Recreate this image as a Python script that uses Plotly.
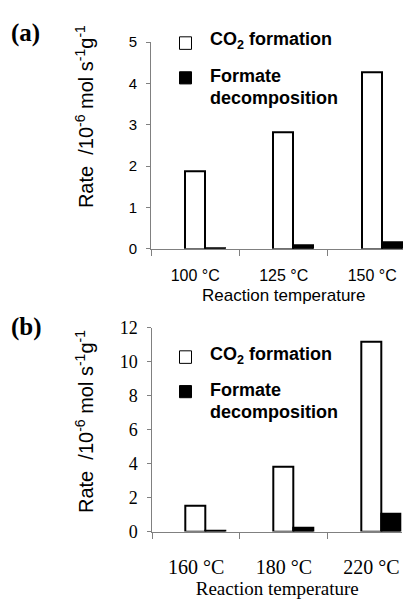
import plotly.graph_objects as go

# ---- data ----
temps_a = ["100 °C", "125 °C", "150 °C"]
co2_a = [1.87, 2.83, 4.28]
formate_a = [0.02, 0.09, 0.16]

temps_b = ["160 °C", "180 °C", "220 °C"]
co2_b = [1.50, 3.82, 11.15]
formate_b = [0.08, 0.22, 1.05]

yticks_a = [0, 1, 2, 3, 4, 5]
yticks_b = [0, 2, 4, 6, 8, 10, 12]

W, H = 406, 599
SANS = "Liberation Sans, Arial, sans-serif"
SERIF = "Liberation Serif, Times New Roman, serif"
GRAY = "#808080"


def px(x):
    return x / W


def py(y):
    return 1 - y / H


pos = list(range(3))
fig = go.Figure()

bar_w = 0.226
for xa, ya, co2, form in [("x", "y", co2_a, formate_a), ("x2", "y2", co2_b, formate_b)]:
    fig.add_trace(go.Bar(x=pos, y=co2, xaxis=xa, yaxis=ya, offset=-0.12, width=bar_w,
                         marker=dict(color="white", line=dict(color="black", width=2)),
                         name="CO2 formation", showlegend=False))
    fig.add_trace(go.Bar(x=pos, y=form, xaxis=xa, yaxis=ya, offset=0.106, width=bar_w,
                         marker=dict(color="black", line=dict(color="black", width=2)),
                         name="Formate decomposition", showlegend=False))


def xaxis(domain, labels, font, standoff, title):
    return dict(domain=domain, range=[-0.5, 2.35], tickmode="array", tickvals=pos,
                ticktext=labels, ticks="", showline=True, linecolor=GRAY, linewidth=1,
                showgrid=False, zeroline=False, tickfont=font, ticklabelstandoff=standoff,
                minor=dict(tickmode="array", tickvals=[-0.5, 0.5, 1.5], ticks="outside",
                           ticklen=6, tickcolor=GRAY, tickwidth=1, showgrid=False),
                title=title, fixedrange=True)


def yaxis(domain, rng, tv, font, anchor):
    return dict(domain=domain, range=rng, tickmode="array", tickvals=tv, ticks="outside",
                ticklen=4, tickcolor=GRAY, showline=True, linecolor=GRAY, linewidth=1,
                showgrid=False, zeroline=False, tickfont=font, anchor=anchor,
                ticklabelstandoff=6, fixedrange=True)


fig.update_layout(
    width=W, height=H, margin=dict(l=0, r=0, t=0, b=0),
    paper_bgcolor="white", plot_bgcolor="white", bargap=0, barmode="overlay",
    xaxis=xaxis([px(151), px(403.2)], temps_a, dict(family=SANS, size=16, color="black"), 12, None),
    yaxis=yaxis([py(247.3), py(33.3)], [0, 5], yticks_a, dict(family=SANS, size=15, color="black"), "x"),
    xaxis2=xaxis([px(152.3), px(402.2)], temps_b, dict(family=SERIF, size=20, color="black"), 17,
                 dict(text="Reaction temperature", standoff=8,
                      font=dict(family=SERIF, size=19, color="black"))),
    yaxis2=yaxis([py(540.5), py(329.2)], [0, 12], yticks_b, dict(family=SERIF, size=18, color="black"), "x2"),
)
fig.layout.xaxis2.anchor = "y2"
fig.layout.xaxis.anchor = "y"

ytitle = "Rate \u00a0/10<sup>-6</sup> mol s<sup>-1</sup>g<sup>-1</sup>"
ann = []
# panel labels
ann.append(dict(text="<b>(a)</b>", x=px(25), y=py(24), font=dict(family=SERIF, size=25, color="black")))
ann.append(dict(text="<b>(b)</b>", x=px(26), y=py(329), font=dict(family=SERIF, size=25, color="black")))
# y titles
ann.append(dict(text=ytitle, x=px(84), y=py(111), textangle=-90, font=dict(family=SANS, size=20, color="black")))
ann.append(dict(text=ytitle, x=px(84), y=py(427), textangle=-90, font=dict(family=SANS, size=20, color="black")))
# x title for panel (a)
ann.append(dict(text="Reaction temperature", x=px(283), y=py(296), font=dict(family=SANS, size=17, color="black")))

shapes = []
# legends (drawn as boxes + text)
for (wy, ty1, fy, ty2, ty3) in [(34.3, 32, 70.3, 68.5, 91.2), (359.7, 358, 395.5, 393.7, 416.4)]:
    shapes.append(dict(type="rect", xref="paper", yref="paper", x0=px(179.5), x1=px(191.5),
                       y0=py(wy - 6.5), y1=py(wy + 6.5), line=dict(color="black", width=1), fillcolor="white"))
    shapes.append(dict(type="rect", xref="paper", yref="paper", x0=px(179.5), x1=px(191.5),
                       y0=py(fy - 6.3), y1=py(fy + 6.3), line=dict(color="black", width=1), fillcolor="black"))
    lf = dict(family=SANS, size=18, color="black")
    ann.append(dict(text="<b>CO<sub>2</sub> formation</b>", x=px(208), y=py(ty1), xanchor="left", font=lf))
    ann.append(dict(text="<b>Formate</b>", x=px(208), y=py(ty2), xanchor="left", font=lf))
    ann.append(dict(text="<b>decomposition</b>", x=px(208), y=py(ty3), xanchor="left", font=lf))

for a in ann:
    a.setdefault("xref", "paper")
    a.setdefault("yref", "paper")
    a.setdefault("showarrow", False)
    a.setdefault("xanchor", "center")
    a.setdefault("yanchor", "middle")

fig.update_layout(annotations=ann, shapes=shapes)
fig.write_html("out.html", config={"displayModeBar": False})
